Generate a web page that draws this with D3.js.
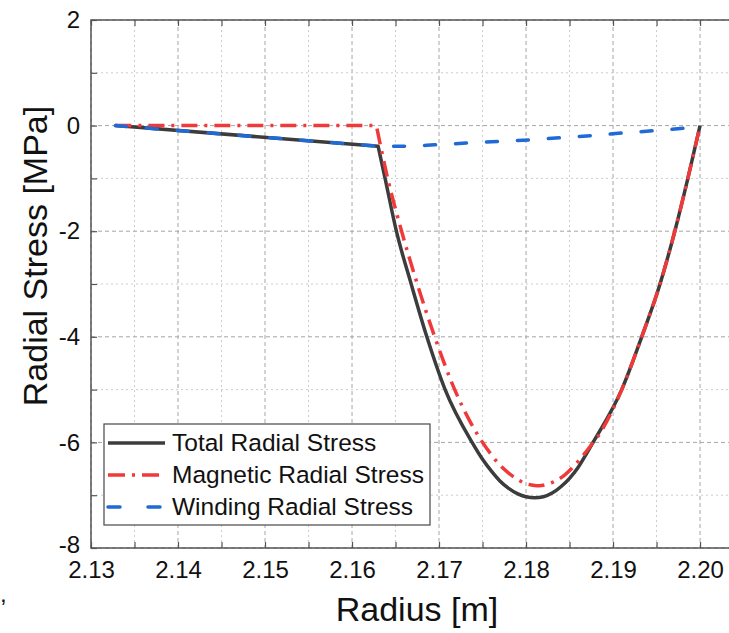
<!DOCTYPE html>
<html>
<head>
<meta charset="utf-8">
<script src="https://cdn.jsdelivr.net/npm/d3@7"></script>
<style>
  body { margin: 0; background: #fff; }
  text { font-family: Arial, "Liberation Sans", sans-serif; fill: #111; }
</style>
</head>
<body>
<div id="chart"></div>
<script>
// data
var totalR = [2.1328, 2.1630, 2.1638, 2.1651, 2.1668, 2.1686, 2.1707, 2.1738, 2.1750, 2.1760, 2.1770, 2.1780,
  2.1790, 2.1800, 2.1810, 2.1820, 2.1830, 2.1840, 2.1850, 2.1860, 2.1870, 2.1877, 2.1910, 2.1933,
  2.1954, 2.1971, 2.1986, 2.2000];
var totalS = [0, -0.39, -1, -2, -3, -4, -5, -6, -6.32, -6.54, -6.73, -6.87,
  -6.97, -7.03, -7.05, -7.03, -6.96, -6.84, -6.68, -6.47, -6.20, -6.0, -5.0, -4.0,
  -3.0, -2.0, -1.0, 0];

var magR = [2.1328, 2.1628, 2.1641, 2.1657, 2.1675, 2.1695, 2.1718, 2.1750, 2.1760, 2.1770, 2.1780, 2.1790,
  2.1800, 2.1810, 2.1815, 2.1825, 2.1835, 2.1845, 2.1855, 2.1865, 2.1875, 2.1882, 2.1910, 2.1933, 2.1954,
  2.1971, 2.1986, 2.2000];
var magS = [0, 0, -1, -2, -3, -4, -5, -6.0, -6.23, -6.43, -6.58, -6.70,
  -6.78, -6.815, -6.82, -6.79, -6.72, -6.61, -6.45, -6.26, -6.05, -5.90, -5.0, -4.0, -3.0,
  -2.0, -1.0, 0];

var windR = [2.1328, 2.1630, 2.1659, 2.1695, 2.1731, 2.1767, 2.1805, 2.1839, 2.1875, 2.1911, 2.1948, 2.1983, 2.2000];
var windS = [0, -0.39, -0.39, -0.365, -0.33, -0.30, -0.27, -0.23, -0.19, -0.14, -0.095, -0.045, 0];

var seriesNames = ["Total Radial Stress", "Magnetic Radial Stress", "Winding Radial Stress"];
var xTicks = [2.13, 2.14, 2.15, 2.16, 2.17, 2.18, 2.19, 2.20];
var xMinor = [2.135, 2.145, 2.155, 2.165, 2.175, 2.185, 2.195];
var yTicks = [-8, -6, -4, -2, 0, 2];
var yMinor = [-7, -5, -3, -1, 1];

var svgWidth = 729;
var svgHeight = 633;
var margin = { top: 20, left: 91, bottom: 85 };
var height = svgHeight - margin.top - margin.bottom;

var svg = d3.select("#chart")
  .append("svg")
  .attr("width", svgWidth)
  .attr("height", svgHeight);

var x = d3.scaleLinear()
  .domain([2.13, 2.2035])
  .range([0, 639.5]);
var width = x.range()[1];

var y = d3.scaleLinear()
  .domain([-8, 2])
  .range([height, 0]);

var g = svg.append("g")
  .attr("transform", `translate(${margin.left}, ${margin.top})`);

// grid lines
g.selectAll(".vgrid")
  .data(xTicks.concat(xMinor))
  .enter()
  .append("line")
  .attr("x1", d => x(d)).attr("x2", d => x(d))
  .attr("y1", 0).attr("y2", height)
  .attr("stroke", d => xMinor.includes(d) ? "#cccccc" : "#a6a6a6")
  .attr("stroke-width", 1)
  .attr("stroke-dasharray", d => xMinor.includes(d) ? "2,3" : "4,3");

g.selectAll(".hgrid")
  .data(yTicks.concat(yMinor))
  .enter()
  .append("line")
  .attr("x1", 0).attr("x2", width)
  .attr("y1", d => y(d)).attr("y2", d => y(d))
  .attr("stroke", d => yMinor.includes(d) ? "#cccccc" : "#a6a6a6")
  .attr("stroke-width", 1)
  .attr("stroke-dasharray", d => yMinor.includes(d) ? "2,3" : "4,3");

// axes, ticks pointing inside
var xAxis = d3.axisBottom(x)
  .tickValues(xTicks.concat(xMinor))
  .tickSizeInner(-6).tickSizeOuter(0).tickPadding(13)
  .tickFormat(d => xMinor.includes(d) ? "" : d3.format(".2f")(d));
var gx = g.append("g")
  .attr("transform", `translate(0, ${height})`)
  .call(xAxis);

var gxTop = g.append("g")
  .call(d3.axisTop(x).tickValues(xTicks.concat(xMinor)).tickSizeInner(-6).tickSizeOuter(0).tickFormat(""));

var yAxis = d3.axisLeft(y)
  .tickValues(yTicks.concat(yMinor))
  .tickSizeInner(-6).tickSizeOuter(0).tickPadding(11)
  .tickFormat(d => yMinor.includes(d) ? "" : d);
var gy = g.append("g").call(yAxis);

[gx, gxTop, gy].forEach(function(a) {
  a.select(".domain").remove();
  a.selectAll(".tick line").attr("stroke", "#555").attr("stroke-width", 1.2);
  a.selectAll("text").attr("font-size", "24px").attr("fill", "#111")
    .attr("font-family", "Arial, 'Liberation Sans', sans-serif");
});
// the -8 label sits a little above its tick so it clears 2.13
gy.selectAll(".tick").filter(d => d === -8).select("text").attr("dy", "0.2em");

// frame
g.append("rect")
  .attr("width", width).attr("height", height)
  .attr("fill", "none")
  .attr("stroke", "#555")
  .attr("stroke-width", 1.5);

// lines: straight run up to the corner, smooth curve after it
var straight = d3.line()
  .x(d => x(d[0]))
  .y(d => y(d[1]));
var smooth = d3.line()
  .x(d => x(d[0]))
  .y(d => y(d[1]))
  .curve(d3.curveMonotoneX);

function pathFor(rs, ss) {
  var pts = d3.zip(rs, ss);
  return straight(pts.slice(0, 2)) + smooth(pts.slice(1)).replace(/^M[^A-Za-z]*/, "");
}

g.append("path")
  .attr("d", pathFor(totalR, totalS))
  .attr("fill", "none")
  .attr("stroke", "#3c3c3c")
  .attr("stroke-width", 3.5)
  .attr("stroke-linejoin", "round");

g.append("path")
  .attr("d", pathFor(magR, magS))
  .attr("fill", "none")
  .attr("stroke", "#f03a3a")
  .attr("stroke-width", 3.5)
  .attr("stroke-dasharray", "16,7,3,7");

g.append("path")
  .attr("d", pathFor(windR, windS))
  .attr("fill", "none")
  .attr("stroke", "#1f6ad6")
  .attr("stroke-width", 3.5)
  .attr("stroke-linecap", "round")
  .attr("stroke-dasharray", "11,20");

// legend
var legend = svg.append("g").attr("transform", "translate(104, 424)");
legend.append("rect")
  .attr("width", 326).attr("height", 101)
  .attr("fill", "#fff")
  .attr("stroke", "#555")
  .attr("stroke-width", 1.3);

var legendStyles = [
  { color: "#3c3c3c", dash: null, cap: "butt" },
  { color: "#f03a3a", dash: "17,7,3,7", cap: "butt" },
  { color: "#1f6ad6", dash: "12,28", cap: "round" }
];
seriesNames.forEach(function(name, i) {
  var row = legend.append("g").attr("transform", `translate(0, ${19 + i * 32})`);
  row.append("line")
    .attr("x1", 4).attr("x2", 61)
    .attr("y1", 0).attr("y2", 0)
    .attr("stroke", legendStyles[i].color)
    .attr("stroke-width", 3.5)
    .attr("stroke-linecap", legendStyles[i].cap)
    .attr("stroke-dasharray", legendStyles[i].dash);
  row.append("text")
    .attr("x", 68).attr("y", 8)
    .attr("font-size", "24.5px")
    .text(name);
});

// axis titles
svg.append("text")
  .attr("x", 417).attr("y", 621)
  .attr("text-anchor", "middle")
  .attr("font-size", "34px")
  .text("Radius [m]");

svg.append("text")
  .attr("transform", "translate(47, 256) rotate(-90)")
  .attr("text-anchor", "middle")
  .attr("font-size", "34px")
  .text("Radial Stress [MPa]");

// stray mark at the bottom-left edge of the source image
svg.append("text")
  .attr("x", 0).attr("y", 602)
  .attr("font-size", "24px")
  .text(",");
</script>
</body>
</html>
